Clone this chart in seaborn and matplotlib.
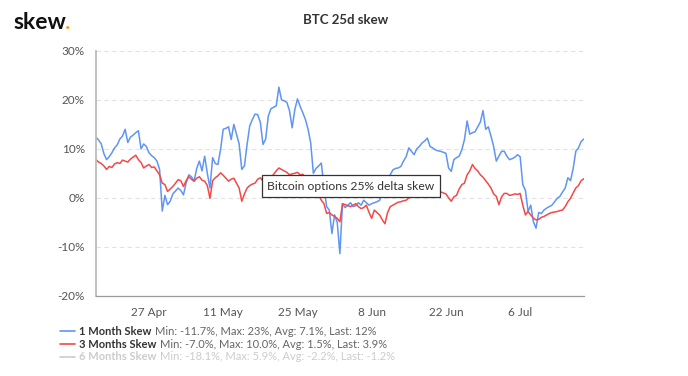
import numpy as np
import pandas as pd
import matplotlib
matplotlib.use('Agg')
import matplotlib.pyplot as plt
import matplotlib.dates as mdates
from matplotlib.ticker import FuncFormatter
from matplotlib.lines import Line2D
import seaborn as sns

# --- datos (12h desde 17 abr 2020) ---
start_date = '2020-04-17'
skew_1m = [12.4, 11.8, 11.0, 9.0, 7.8, 8.4, 9.2, 10.2, 10.8, 12.0,
           12.6, 14.0, 11.3, 12.4, 12.8, 13.3, 13.7, 10.0, 11.0, 10.5,
           9.2, 8.6, 8.2, 7.5, 5.8, -2.7, 0.5, -1.4, -0.7, 0.8,
           1.4, 2.0, 1.5, 0.6, 3.0, 4.7, 4.3, 3.4, 6.0, 7.5,
           5.5, 8.5, 5.0, 2.0, 8.2, 7.0, 6.8, 9.9, 14.0, 14.2,
           14.5, 11.9, 15.0, 13.0, 11.0, 5.8, 6.5, 10.9, 14.7, 16.0,
           17.1, 17.0, 15.4, 10.9, 12.0, 16.7, 18.2, 18.5, 18.8, 22.6,
           20.0, 19.8, 19.5, 17.8, 14.3, 18.0, 20.2, 18.7, 17.4, 16.0,
           14.0, 11.2, 5.0, 6.0, 6.5, 7.1, 2.3, -1.8, -2.5, -7.3,
           -3.5, -5.0, -11.4, -1.2, -2.0, -1.5, -1.0, -1.8, -1.6, -1.0,
           -1.5, -0.5, -1.0, -1.5, -1.2, -1.0, -0.8, -0.5, 0.9, 2.0,
           3.6, 4.7, 5.7, 6.0, 6.1, 6.4, 7.5, 8.4, 10.2, 9.5,
           8.8, 10.0, 10.5, 11.2, 11.6, 12.2, 10.5, 10.2, 9.8, 9.6,
           9.5, 9.3, 9.1, 6.1, 5.4, 7.8, 8.2, 8.5, 9.8, 11.9,
           15.7, 13.0, 13.3, 13.5, 14.5, 15.5, 17.8, 14.0, 14.5, 12.6,
           10.5, 7.5, 8.5, 9.5, 9.5, 8.5, 7.8, 8.0, 8.3, 8.8,
           8.4, 2.7, 1.5, -2.8, -1.5, -4.9, -6.2, -3.0, -3.2, -2.5,
           -2.1, -1.8, -1.5, -0.8, -0.1, 0.3, 1.2, 2.0, 4.1, 3.5,
           6.0, 9.5, 10.2, 11.5, 12.0]
skew_3m = [7.8, 7.3, 7.0, 6.5, 5.8, 6.4, 6.2, 6.9, 7.2, 7.0,
           7.7, 7.5, 7.3, 7.9, 8.3, 8.7, 7.8, 7.2, 6.1, 6.5,
           6.8, 6.2, 6.3, 5.5, 4.7, 3.0, 2.7, 1.3, 1.8, 2.3,
           3.0, 3.7, 3.5, 2.3, 3.5, 4.3, 3.8, 3.4, 4.0, 4.3,
           3.6, 3.4, 2.5, -0.1, 3.5, 4.1, 4.5, 5.1, 4.6, 4.0,
           3.4, 3.8, 4.0, 3.0, 2.0, -0.7, 0.8, 2.0, 2.5, 2.8,
           3.0, 3.8, 4.1, 3.4, 3.6, 3.8, 4.1, 4.8, 5.5, 6.1,
           5.8, 5.5, 5.2, 4.7, 4.9, 5.0, 5.2, 4.7, 4.8, 4.3,
           3.8, 3.0, 2.2, 1.5, 0.5, -0.5, -1.2, -3.2, -3.0, -3.5,
           -3.8, -4.2, -4.9, -1.2, -1.4, -1.6, -1.8, -1.5, -1.2, -1.8,
           -2.2, -2.0, -1.5, -3.0, -4.2, -2.5, -3.0, -3.5, -4.5, -5.3,
           -3.0, -1.8, -1.5, -1.2, -0.9, -0.8, -0.6, -0.5, 0.0, 0.2,
           0.8, 1.0, 1.5, 1.2, 1.0, 0.8, 0.5, 0.9, 1.2, 1.0,
           1.2, 1.0, 0.8, 0.0, -0.7, 0.2, 0.5, 1.8, 2.7, 3.0,
           4.7, 5.5, 6.8, 6.0, 5.5, 4.7, 4.2, 3.5, 2.8, 2.0,
           0.8, 0.3, -1.4, 0.2, 0.9, 0.9, 0.5, 0.6, 0.8, 0.7,
           0.9, -1.5, -3.5, -2.8, -3.5, -4.2, -4.5, -4.4, -4.0, -3.8,
           -3.5, -3.2, -3.0, -2.9, -2.8, -2.6, -2.5, -1.8, -0.8, -0.1,
           1.0, 2.0, 2.5, 3.5, 3.9]

legend_names = ['1 Month Skew', '3 Months Skew', '6 Months Skew']
legend_stats = ['Min: -11.7%, Max: 23%, Avg: 7.1%, Last: 12%',
                'Min: -7.0%, Max: 10.0%, Avg: 1.5%, Last: 3.9%',
                'Min: -18.1%, Max: 5.9%, Avg: -2.2%, Last: -1.2%']
y_ticks = [-20, -10, 0, 10, 20, 30]
x_ticks = ['2020-04-27', '2020-05-11', '2020-05-25', '2020-06-08', '2020-06-22', '2020-07-06']

BLUE = '#5f95f3'
RED = '#f44848'

fechas = pd.date_range(start_date, periods=len(skew_1m), freq='12h')
df = pd.DataFrame({'fecha': fechas, '1m': skew_1m, '3m': skew_3m})

sns.set_style('white')
plt.rcParams['font.family'] = ['Lato', 'DejaVu Sans']

fig = plt.figure(figsize=(6.88, 3.76), dpi=100)
ax = fig.add_axes([0.1395, 0.2135, 0.709, 0.651])

sns.lineplot(data=df, x='fecha', y='1m', ax=ax, color=BLUE, linewidth=1.1)
sns.lineplot(data=df, x='fecha', y='3m', ax=ax, color=RED, linewidth=1.1)

ax.set_ylim(-20, 30)
ax.set_yticks(y_ticks)
ax.yaxis.set_major_formatter(FuncFormatter(lambda v, p: f'{v:.0f}%'))
ax.set_xlim(fechas[0], fechas[-1])
ax.set_xticks(pd.to_datetime(x_ticks))
ax.xaxis.set_major_formatter(mdates.DateFormatter('%-d %b'))
ax.set_xlabel('')
ax.set_ylabel('')

for v in y_ticks:
    ax.axhline(v, color='#e2e2e2', linestyle=(0, (4, 3)), linewidth=0.8, zorder=0)

for s in ['top', 'right']:
    ax.spines[s].set_visible(False)
ax.spines['left'].set_color('#bbbbbb')
ax.spines['left'].set_linewidth(1.3)
ax.spines['bottom'].set_color('#999999')
ax.spines['bottom'].set_linewidth(0.9)
ax.tick_params(axis='y', colors='#aaaaaa', length=5, width=0.8, labelcolor='#555555', labelsize=8.5, pad=3)
ax.tick_params(axis='x', colors='#999999', length=5, width=0.8, labelcolor='#555555', labelsize=8.5, pad=3)

# anotacion
ax.text(0.522, 0.448, 'Bitcoin options 25% delta skew', transform=ax.transAxes,
        ha='center', va='center', fontsize=8.7, color='#333333', zorder=5,
        bbox=dict(boxstyle='square,pad=0.45', facecolor='white', edgecolor='#333333', linewidth=0.9))

# titulo y logo
fig.text(0.503, 0.948, 'BTC 25d skew', ha='center', va='center', fontsize=9.5, fontweight='bold', color='#333333')
logo = fig.text(0.020, 0.94, 'skew', ha='left', va='center', fontsize=16.5, fontweight='bold', color='#111111')

fig.canvas.draw()
renderer = fig.canvas.get_renderer()
bb = logo.get_window_extent(renderer).transformed(fig.transFigure.inverted())
fig.text(bb.x1 - 0.002, 0.94, '.', ha='left', va='center', fontsize=16.5, fontweight='bold', color='#f5a623')

# leyenda manual
rows_y = [0.119, 0.085, 0.051]
colors_line = [BLUE, RED, '#cccccc']
name_colors = ['#333333', '#333333', '#cccccc']
stat_colors = ['#666666', '#666666', '#cccccc']
for i in range(3):
    y = rows_y[i]
    fig.add_artist(Line2D([0.087, 0.109], [y, y], color=colors_line[i], linewidth=1.2))
    t = fig.text(0.115, y, legend_names[i], ha='left', va='center', fontsize=8.0,
                 fontweight='bold', color=name_colors[i])
    fig.canvas.draw()
    b = t.get_window_extent(renderer).transformed(fig.transFigure.inverted())
    fig.text(b.x1 + 0.005, y, legend_stats[i], ha='left', va='center', fontsize=8.0, color=stat_colors[i])

fig.savefig('out.png', dpi=100)
